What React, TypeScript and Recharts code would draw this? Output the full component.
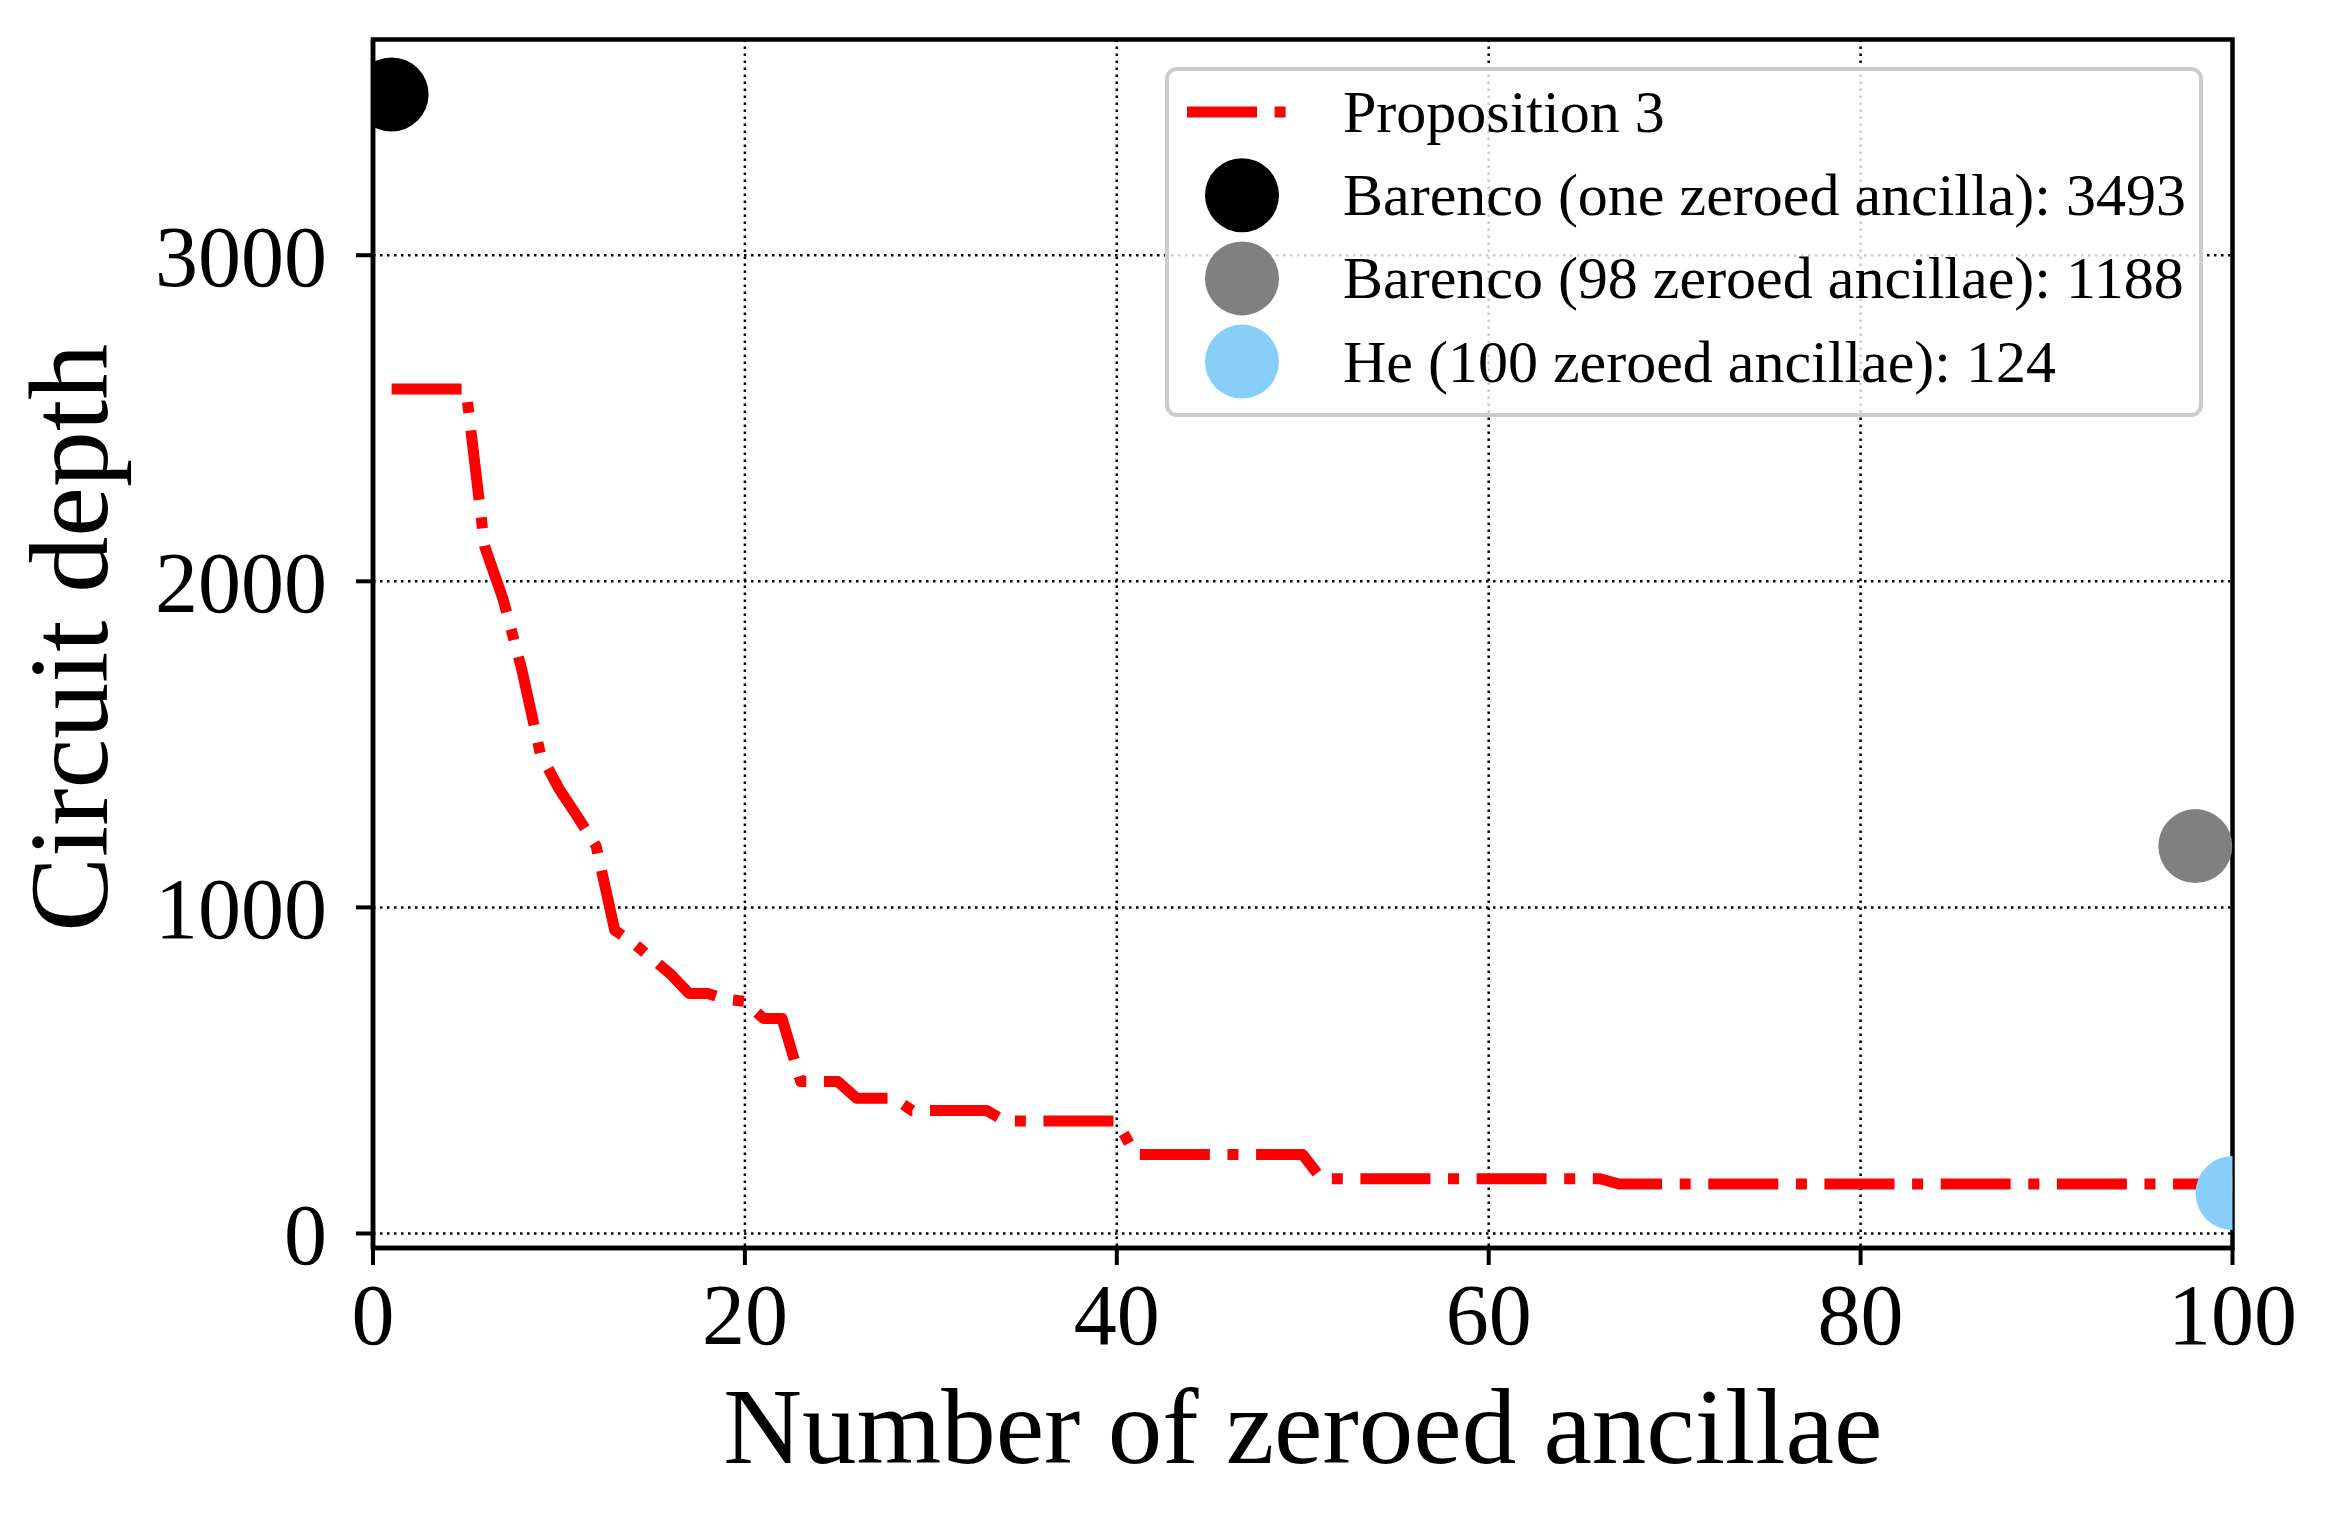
import React from "react";
import { ComposedChart, Line, Scatter, XAxis, YAxis, CartesianGrid, Legend, ReferenceArea } from "recharts";

const W = 2337;
const H = 1526;
const FONT = "'Liberation Serif', 'DejaVu Serif', serif";

// Proposition 3 curve (vertices)
const ancillae = [1, 5, 6, 7, 8, 9, 10, 11, 12, 13, 14, 15, 16, 17, 18, 19, 20, 21, 22, 23, 25, 26, 28, 29, 33, 34, 40, 41, 50, 51, 66, 67, 100];
const depthProp3 = [2590, 2590, 2108, 1944, 1730, 1471, 1364, 1278, 1188, 930, 891, 843, 796, 736, 736, 718, 712, 659, 659, 466, 466, 415, 415, 377, 377, 345, 345, 242, 242, 168, 168, 152, 152];
const propData = ancillae.map((x, i) => ({ x, y: depthProp3[i] }));

const barencoOne = [{ x: 1, y: 3493 }];
const barenco98 = [{ x: 98, y: 1188 }];
const he100 = [{ x: 100, y: 124 }];

const xTicks = [0, 20, 40, 60, 80, 100];
const yTicks = [0, 1000, 2000, 3000];
const X_DOMAIN: [number, number] = [0, 100];
const Y_DOMAIN: [number, number] = [-44.5, 3661.5];

const PROP_NAME = "Proposition 3";
const legendEntries = [
  { name: PROP_NAME, kind: "line", color: "#ff0000" },
  { name: "Barenco (one zeroed ancilla): 3493", kind: "dot", color: "#000000" },
  { name: "Barenco (98 zeroed ancillae): 1188", kind: "dot", color: "#808080" },
  { name: "He (100 zeroed ancillae): 124", kind: "dot", color: "#87cefa" },
];

const DASH = "70 17.6 11 17.6";
const R = 37;

function dotShape(color: string) {
  return (p: any) => <circle cx={p.cx} cy={p.cy} r={R} fill={color} />;
}

function LegendBox() {
  return (
    <svg width={1038} height={350} style={{ display: "block" }}>
      <rect x={2} y={2} width={1034} height={346} rx={10} ry={10}
        fill="#ffffff" fillOpacity={0.8} stroke="#cccccc" strokeWidth={4} />
      {legendEntries.map((e, i) => {
        const cy = 45 + i * 83.2;
        return (
          <g key={e.name}>
            {e.kind === "line" ? (
              <line x1={22} x2={123} y1={cy} y2={cy} stroke={e.color}
                strokeWidth={11} strokeDasharray={DASH} />
            ) : (
              <circle cx={77} cy={cy} r={R} fill={e.color} />
            )}
            <text x={178} y={cy + 20} fontSize={60} fontFamily={FONT} fill="#000">
              {e.name}
            </text>
          </g>
        );
      })}
    </svg>
  );
}

function XLabel(props: any) {
  const vb = props.viewBox;
  return (
    <text x={vb.x + vb.width / 2} y={1463} textAnchor="middle"
      fontSize={109} fontFamily={FONT} fill="#000">
      Number of zeroed ancillae
    </text>
  );
}

function YLabel(props: any) {
  const vb = props.viewBox;
  const cy = vb.y + vb.height / 2 - 6;
  return (
    <text x={107} y={cy} transform={`rotate(-90 107 ${cy})`} textAnchor="middle"
      fontSize={112} fontFamily={FONT} fill="#000">
      Circuit depth
    </text>
  );
}

const tickStyle = { fill: "#000", fontSize: 86, fontFamily: FONT };
const spine = { stroke: "#000", strokeWidth: 4.5 };

export default function App() {
  return (
    <div style={{ position: "absolute", left: 0, top: 0, width: W, height: H, background: "#fff" }}>
      <ComposedChart width={W} height={H} margin={{ top: 39.5, right: 104.5, bottom: 0, left: 0 }}>
        <CartesianGrid stroke="#000" strokeWidth={2.5} strokeDasharray="2.5 4.5" />
        <XAxis dataKey="x" type="number" domain={X_DOMAIN} ticks={xTicks} allowDataOverflow
          height={278} tickSize={17} tickMargin={18} tick={tickStyle}
          tickLine={{ stroke: "#000", strokeWidth: 4 }} axisLine={spine}
          label={<XLabel />} />
        <YAxis dataKey="y" type="number" domain={Y_DOMAIN} ticks={yTicks} allowDataOverflow
          width={373} tickSize={17} tickMargin={29} tick={tickStyle}
          tickLine={{ stroke: "#000", strokeWidth: 4 }} axisLine={spine}
          label={<YLabel />} />
        <Line data={propData} dataKey="y" name={PROP_NAME} type="linear" stroke="#ff0000"
          strokeWidth={11} strokeDasharray={DASH} strokeLinejoin="round" dot={false}
          activeDot={false} isAnimationActive={false} />
        <Scatter data={barencoOne} dataKey="y" name={legendEntries[1].name}
          shape={dotShape("#000000")} isAnimationActive={false} />
        <Scatter data={barenco98} dataKey="y" name={legendEntries[2].name}
          shape={dotShape("#808080")} isAnimationActive={false} />
        <Scatter data={he100} dataKey="y" name={legendEntries[3].name}
          shape={dotShape("#87cefa")} isAnimationActive={false} />
        <ReferenceArea x1={X_DOMAIN[0]} x2={X_DOMAIN[1]} y1={Y_DOMAIN[0]} y2={Y_DOMAIN[1]}
          fill="none" fillOpacity={0} stroke="#000" strokeWidth={4.5} ifOverflow="visible" />
        <Legend layout="horizontal" verticalAlign="middle" align="center"
          wrapperStyle={{ position: "absolute", left: 1165, top: 67, width: 1038, height: 350 }}
          content={() => <LegendBox />} />
      </ComposedChart>
    </div>
  );
}
